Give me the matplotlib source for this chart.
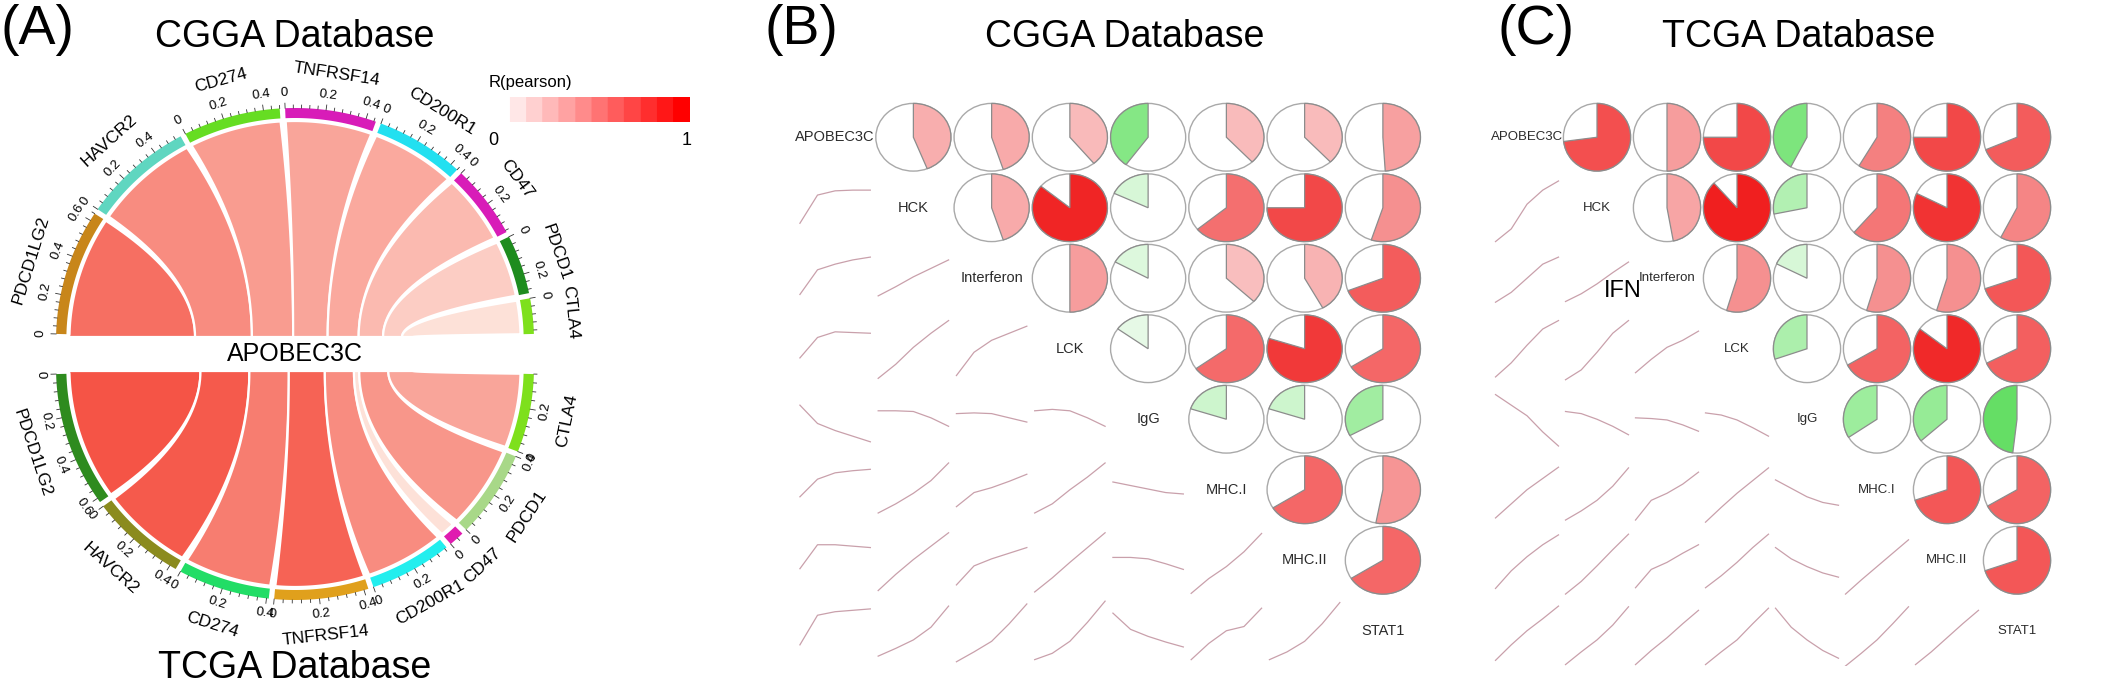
import numpy as np
import matplotlib
matplotlib.use("Agg")
import matplotlib.pyplot as plt
from matplotlib.colors import LinearSegmentedColormap
from matplotlib.patches import Polygon, Wedge, Circle

plt.rcParams['font.family'] = ['Liberation Sans', 'DejaVu Sans']

W, H = 2118, 691

# ---------------- Panel A : chord diagram data ----------------
genes_a = ["PDCD1LG2", "HAVCR2", "CD274", "TNFRSF14", "CD200R1", "CD47", "PDCD1", "CTLA4"]
cgga_width = [0.64, 0.55, 0.48, 0.45, 0.44, 0.37, 0.30, 0.18]
cgga_r = [0.71, 0.56, 0.48, 0.43, 0.41, 0.32, 0.22, 0.12]
tcga_width = [0.62, 0.43, 0.41, 0.42, 0.37, 0.07, 0.40, 0.36]
tcga_r = [0.85, 0.82, 0.64, 0.77, 0.56, 0.12, 0.51, 0.43]
cgga_sector_colors = ["#c8861a", "#5fd6c0", "#66dd22", "#d81cb8", "#22e0f0", "#d81cb8", "#1e8c1e", "#7ee01c"]
tcga_sector_colors = ["#2e8b1e", "#8b8b1e", "#22dd66", "#e0a01c", "#22eeee", "#e01cb0", "#a8d888", "#7ee01c"]

# ---------------- Panels B / C : corrgram data ----------------
vars_bc = ["APOBEC3C", "HCK", "Interferon", "LCK", "IgG", "MHC.I", "MHC.II", "STAT1"]

# upper triangle pearson r, row by row
cgga_pie = [
    [0.44, 0.45, 0.39, -0.40, 0.38, 0.38, 0.49],
    [0.45, 0.86, -0.18, 0.64, 0.75, 0.55],
    [0.50, -0.17, 0.37, 0.42, 0.69],
    [-0.15, 0.65, 0.80, 0.66],
    [-0.20, -0.20, -0.33],
    [0.66, 0.53],
    [0.66],
]
tcga_pie = [
    [0.73, 0.50, 0.75, -0.42, 0.59, 0.75, 0.69],
    [0.47, 0.88, -0.28, 0.62, 0.82, 0.58],
    [0.55, -0.18, 0.55, 0.55, 0.70],
    [-0.30, 0.67, 0.85, 0.68],
    [-0.34, -0.36, -0.48],
    [0.70, 0.67],
    [0.70],
]

# lower triangle smoothed trends (height inside cell, 0 = bottom, 1 = top)
cgga_trend = [
    [[0.28, 0.68, 0.74, 0.75, 0.75]],
    [[0.27, 0.62, 0.70, 0.76, 0.80], [0.25, 0.38, 0.52, 0.64, 0.76]],
    [[0.37, 0.66, 0.74, 0.73, 0.72], [0.08, 0.28, 0.52, 0.72, 0.90], [0.12, 0.45, 0.62, 0.72, 0.82]],
    [[0.70, 0.44, 0.34, 0.26, 0.18], [0.62, 0.62, 0.61, 0.52, 0.40], [0.58, 0.59, 0.58, 0.52, 0.46],
     [0.62, 0.64, 0.62, 0.52, 0.40]],
    [[0.40, 0.65, 0.74, 0.77, 0.79], [0.17, 0.30, 0.45, 0.63, 0.88], [0.26, 0.46, 0.53, 0.62, 0.72],
     [0.17, 0.30, 0.50, 0.68, 0.88], [0.61, 0.56, 0.51, 0.46, 0.44]],
    [[0.38, 0.72, 0.72, 0.70, 0.68], [0.07, 0.30, 0.51, 0.70, 0.89], [0.15, 0.42, 0.52, 0.60, 0.68],
     [0.05, 0.25, 0.47, 0.68, 0.89], [0.54, 0.54, 0.52, 0.45, 0.37], [0.03, 0.24, 0.41, 0.62, 0.88]],
    [[0.30, 0.72, 0.77, 0.79, 0.81], [0.14, 0.25, 0.37, 0.55, 0.85], [0.06, 0.20, 0.35, 0.60, 0.88],
     [0.09, 0.18, 0.35, 0.62, 0.92], [0.75, 0.52, 0.42, 0.34, 0.27], [0.09, 0.32, 0.50, 0.56, 0.82],
     [0.09, 0.20, 0.35, 0.60, 0.90]],
]
tcga_trend = [
    [[0.02, 0.20, 0.55, 0.75, 0.88]],
    [[0.16, 0.30, 0.50, 0.70, 0.80], [0.17, 0.28, 0.42, 0.58, 0.73]],
    [[0.10, 0.30, 0.55, 0.78, 0.90], [0.06, 0.20, 0.45, 0.72, 0.90], [0.16, 0.35, 0.52, 0.62, 0.75]],
    [[0.85, 0.70, 0.55, 0.32, 0.12], [0.61, 0.58, 0.50, 0.40, 0.28], [0.52, 0.51, 0.49, 0.42, 0.33],
     [0.59, 0.56, 0.49, 0.38, 0.26]],
    [[0.10, 0.30, 0.50, 0.66, 0.82], [0.07, 0.20, 0.35, 0.55, 0.81], [0.07, 0.35, 0.45, 0.58, 0.75],
     [0.04, 0.25, 0.45, 0.63, 0.81], [0.64, 0.52, 0.40, 0.32, 0.28]],
    [[0.10, 0.35, 0.55, 0.72, 0.86], [0.02, 0.20, 0.42, 0.65, 0.87], [0.11, 0.37, 0.47, 0.60, 0.72],
     [0.11, 0.28, 0.47, 0.68, 0.87], [0.68, 0.52, 0.41, 0.32, 0.26], [0.02, 0.22, 0.41, 0.60, 0.79]],
    [[0.08, 0.30, 0.50, 0.67, 0.85], [0.02, 0.20, 0.37, 0.58, 0.84], [0.02, 0.22, 0.40, 0.60, 0.79],
     [0.02, 0.20, 0.37, 0.60, 0.82], [0.82, 0.55, 0.37, 0.22, 0.11], [0.00, 0.18, 0.37, 0.60, 0.84],
     [0.02, 0.20, 0.40, 0.60, 0.79]],
]

# ---------------- colours ----------------
ribbon_cmap = LinearSegmentedColormap.from_list("rib", [(254/255, 247/255, 240/255), (243/255, 56/255, 40/255)])
bar_cmap = LinearSegmentedColormap.from_list("bar", ["#ffffff", "#ff0000"], N=12)
pos_cmap = LinearSegmentedColormap.from_list(
    "pos", [(0, "#ffffff"), (0.4, "#f9b8b8"), (0.55, "#f59090"), (0.7, "#f35858"), (0.88, "#f02020"), (1, "#e00000")])
neg_cmap = LinearSegmentedColormap.from_list(
    "neg", [(0, "#ffffff"), (0.15, "#e6f9e6"), (0.2, "#cdf5cd"), (0.35, "#9aec9a"), (0.5, "#5cdc5c"), (1, "#00a000")])

# ---------------- chord geometry ----------------
CX, SX = 295, 1.03
R_LINK, R_IN, R_OUT = 219, 222, 232
PHI0, PHI1, GAP = 178.5, 1.5, 1.3
BX0, BX1 = 69, 413


def pt(phi, r, base, side):
    a = np.radians(phi)
    return np.array([CX + r * np.cos(a) * SX, base - side * r * np.sin(a)])


def bez(p0, c, p2, n=30):
    t = np.linspace(0, 1, n)[:, None]
    return (1 - t) ** 2 * p0 + 2 * (1 - t) * t * c + t ** 2 * p2


def draw_half(ax, widths, rvals, colors, base, side):
    n = len(widths)
    total = sum(widths)
    scale = (PHI0 - PHI1 - GAP * (n - 1)) / total
    cum = np.concatenate([[0], np.cumsum(widths)]) / total
    bx = BX0 + (BX1 - BX0) * cum ** 0.6
    yb = base - side * 3
    phi = PHI0
    for k in range(n):
        pa, pb = phi, phi - widths[k] * scale
        phi = pb - GAP

        # ribbon
        arc = np.array([pt(p, R_LINK, base, side) for p in np.linspace(pa, pb, 40)])
        p0 = arc[-1]
        p2 = np.array([bx[k + 1], yb])
        right = bez(p0, np.array([p2[0], (yb + p0[1]) / 2]), p2)
        q2 = arc[0]
        q0 = np.array([bx[k], yb])
        left = bez(q0, np.array([q0[0], (yb + q2[1]) / 2]), q2)
        poly = np.vstack([arc, right, left])
        ax.add_patch(Polygon(poly, closed=True, facecolor=ribbon_cmap(rvals[k]),
                             edgecolor="white", linewidth=1.6, zorder=2))

        # sector ring
        ps = np.linspace(pa, pb, 40)
        outer = np.array([pt(p, R_OUT, base, side) for p in ps])
        inner = np.array([pt(p, R_IN, base, side) for p in ps[::-1]])
        ax.add_patch(Polygon(np.vstack([outer, inner]), closed=True, facecolor=colors[k],
                             edgecolor="none", zorder=3))

        # ticks
        for v in np.arange(0, widths[k] + 1e-9, 0.04):
            p = pa - v * scale
            major = abs(v / 0.2 - round(v / 0.2)) < 1e-6
            a = pt(p, R_OUT, base, side)
            b = pt(p, R_OUT + (5 if major else 3), base, side)
            ax.plot([a[0], b[0]], [a[1], b[1]], color="#333333", lw=0.6, zorder=3)
            if major:
                lab = "0" if v < 1e-9 else f"{v:.1f}"
                tp = pt(p, 247, base, side)
                rot = (p - 90) if side > 0 else (90 - p)
                ax.text(tp[0], tp[1], lab, fontsize=9.5, rotation=rot, rotation_mode="anchor",
                        ha="center", va="center", zorder=4)

        # sector name
        pm = (pa + pb) / 2
        tp = pt(pm, 269, base, side)
        rot = (pm - 90) if side > 0 else (90 - pm)
        ax.text(tp[0], tp[1], genes_a[k], fontsize=12.5, rotation=rot, rotation_mode="anchor",
                ha="center", va="center", zorder=4)


def corrgram(ax, pies, trends, labels, fs):
    n = len(labels)
    ax.set_xlim(-0.5, n - 0.5)
    ax.set_ylim(-0.5, n - 0.5)
    ax.axis("off")
    for i in range(n):
        yc = n - 1 - i
        ax.text(i, yc, labels[i], fontsize=fs, color="#2b2b2b", ha="center", va="center")
        if i < len(pies):
            for k, r in enumerate(pies[i]):
                j = i + 1 + k
                ax.add_patch(Circle((j, yc), 0.48, facecolor="white", edgecolor="#a9a9a9", lw=1.0))
                if r >= 0:
                    th1, th2, col = 90 - 360 * r, 90, pos_cmap(r)
                else:
                    th1, th2, col = 90, 90 - 360 * r, neg_cmap(-r)
                ax.add_patch(Wedge((j, yc), 0.48, th1, th2, facecolor=col, edgecolor="#8c8c8c", lw=0.9))
    for i, row in enumerate(trends, start=1):
        yc = n - 1 - i
        for j, ys in enumerate(row):
            xs = j - 0.45 + 0.9 * np.linspace(0, 1, len(ys))
            ax.plot(xs, yc - 0.5 + np.array(ys), color="#c9a0ab", lw=0.9)


fig = plt.figure(figsize=(W / 100, H / 100), dpi=100)

# panel A axes in pixel units
ax_a = fig.add_axes([0, 0, 760 / W, 1])
ax_a.set_xlim(0, 760)
ax_a.set_ylim(H, 0)
ax_a.axis("off")

draw_half(ax_a, cgga_width, cgga_r, cgga_sector_colors, 340, 1)
draw_half(ax_a, tcga_width, tcga_r, tcga_sector_colors, 368, -1)
ax_a.text(CX, 354, "APOBEC3C", fontsize=18, ha="center", va="center", zorder=5,
          bbox=dict(facecolor="white", edgecolor="none", pad=1))

# colour key
grad = np.linspace(0, 1, 256)[None, :]
ax_a.imshow(grad, cmap=bar_cmap, extent=(493, 690, 122, 97), aspect="auto", zorder=1)
ax_a.text(530, 82, "R(pearson)", fontsize=12, ha="center", va="center")
ax_a.text(493, 140, "0", fontsize=13, ha="center", va="center")
ax_a.text(687, 140, "1", fontsize=13, ha="center", va="center")
ax_a.set_xlim(0, 760)
ax_a.set_ylim(H, 0)

# panels B and C
ax_b = fig.add_axes([796 / W, 1 - 666 / H, 626 / W, 564 / H])
corrgram(ax_b, cgga_pie, cgga_trend, vars_bc, 10.5)
ax_c = fig.add_axes([1492 / W, 1 - 666 / H, 560 / W, 564 / H])
corrgram(ax_c, tcga_pie, tcga_trend, vars_bc, 9.5)
ax_c.text(1.37, 4.82, "IFN", fontsize=17, ha="center", va="center")


def ftxt(x, y, s, fs):
    fig.text(x / W, 1 - y / H, s, fontsize=fs, ha="center", va="center")


ftxt(37, 30, "(A)", 40)
ftxt(801, 30, "(B)", 40)
ftxt(1536, 30, "(C)", 40)
ftxt(295, 37, "CGGA Database", 27)
ftxt(295, 668, "TCGA Database", 27)
ftxt(1125, 37, "CGGA Database", 27)
ftxt(1799, 37, "TCGA Database", 27)

fig.savefig("out.png", dpi=100)
